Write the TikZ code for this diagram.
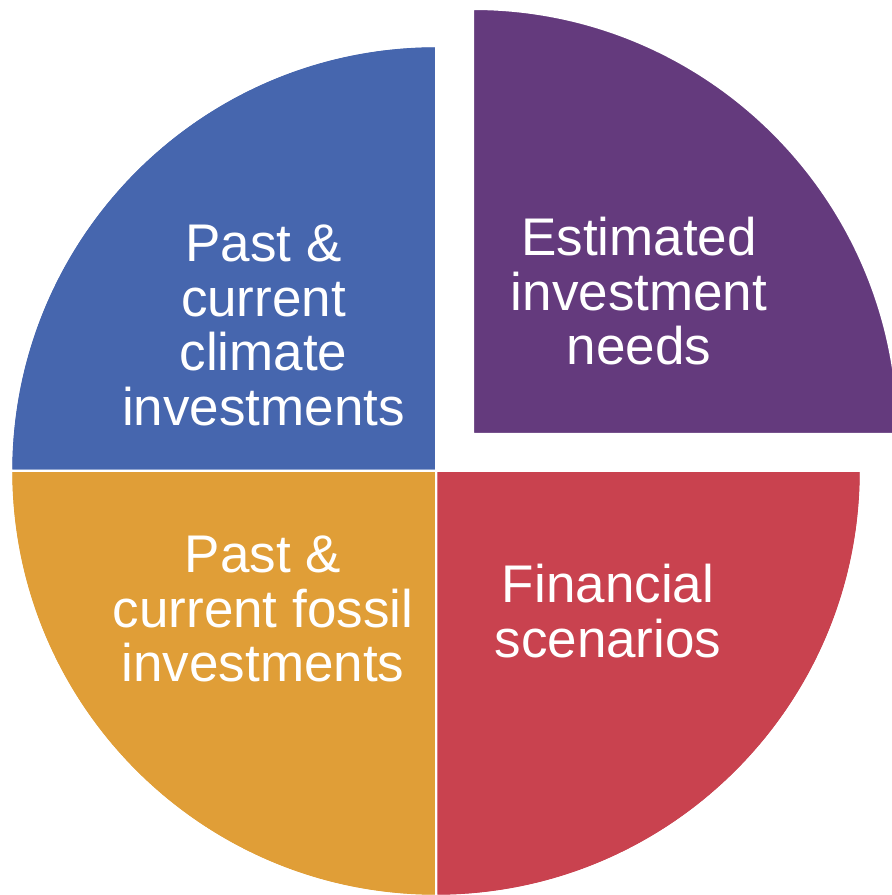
\documentclass[tikz,border=0pt]{standalone}
\usepackage{fontspec}
\setmainfont{Liberation Sans}
\definecolor{pieBlue}{HTML}{4666AE}
\definecolor{piePurple}{HTML}{643A7D}
\definecolor{pieRed}{HTML}{C9424F}
\definecolor{pieOrange}{HTML}{E09E37}
\begin{document}
\begin{tikzpicture}[x=1pt,y=1pt,
  wedge/.style={draw=white,line width=2pt,line join=miter},
  label/.style={text=white,align=center,inner sep=0pt,anchor=north,
    font=\fontsize{53}{54.5}\selectfont}]
\useasboundingbox (0,0) rectangle (892,895);
% pie centre and the pulled-out centre of the top-right wedge
\coordinate (c) at (436,424);
\coordinate (p) at (473,461);
\def\rad{425}
\fill[wedge,fill=pieBlue]   (c) -- ++(90:\rad)  arc[start angle=90, end angle=180, radius=\rad] -- cycle;
\fill[wedge,fill=pieOrange] (c) -- ++(180:\rad) arc[start angle=180,end angle=270, radius=\rad] -- cycle;
\fill[wedge,fill=pieRed]    (c) -- ++(270:\rad) arc[start angle=270,end angle=360, radius=\rad] -- cycle;
\fill[wedge,fill=piePurple] (p) -- ++(0:\rad)   arc[start angle=0,  end angle=90,  radius=\rad] -- cycle;
\draw[wedge] (c) -- ++(90:\rad)  arc[start angle=90, end angle=180, radius=\rad] -- cycle;
\draw[wedge] (c) -- ++(180:\rad) arc[start angle=180,end angle=270, radius=\rad] -- cycle;
\draw[wedge] (c) -- ++(270:\rad) arc[start angle=270,end angle=360, radius=\rad] -- cycle;
% labels
\node[label] (climate) at (263.5,670) {Past \&\\current\\climate\\investments};
\node[label] (needs)   at (639,678) {Estimated\\investment\\needs};
\node[label] (fossil)  at (263,359) {Past \&\\current fossil\\investments};
\node[label] (finance) at (608,331) {Financial\\scenarios};
\end{tikzpicture}
\end{document}
